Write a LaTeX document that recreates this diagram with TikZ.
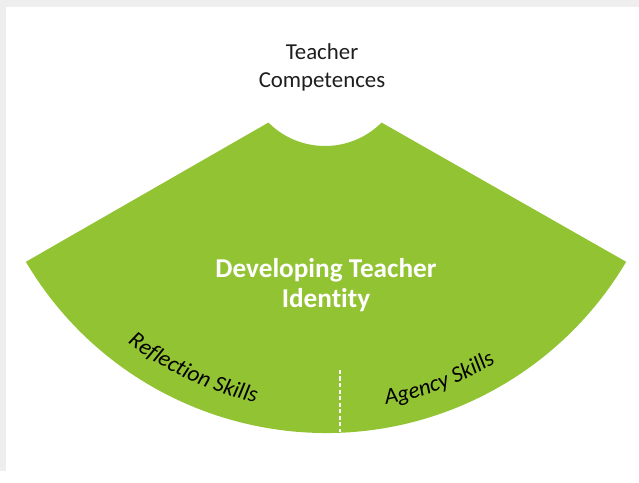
\documentclass[tikz,border=0pt]{standalone}
\usepackage{fontspec}
\setmainfont{Carlito}[Ligatures=NoCommon]
\usetikzlibrary{positioning,calc,decorations.text}

\definecolor{leafgreen}{RGB}{146,195,51}
\definecolor{framegray}{RGB}{238,238,238}
\definecolor{inkgray}{RGB}{30,30,30}

\tikzset{
  skilltext/.style={decorate,decoration={text along path,text align=center}},
}

\begin{document}
\begin{tikzpicture}[x=0.02cm,y=0.02cm]
    \fill[framegray] (0,0) rectangle (639,471);
    \fill[white] (6,0) rectangle (639,464);
    % centres of the fan and of the notch
    \coordinate (O) at (326,386.7);
    \coordinate (C) at (325,405);
    \fill[leafgreen] ($(C)+(225:80)$) -- ($(O)+(210.6:348.7)$)
        arc[start angle=210.6,end angle=329.4,radius=348.7]
        -- ($(C)+(315:80)$) arc[start angle=315,end angle=225,radius=80] -- cycle;
    \node[text=inkgray, align=center, font=\fontsize{13}{16}\selectfont] (comp) at (322,404) {Teacher\\Competences};
    \node[text=white, align=center, font=\bfseries\fontsize{15.5}{17.5}\selectfont] (ident) at (326,186) {Developing Teacher\\Identity};
    \coordinate (divtop) at (340,101);
    \coordinate (divbot) at (340,38.5);
    \draw[white, line width=0.6pt, dash pattern=on 2.5pt off 1.2pt] (divtop) -- (divbot);
    %\draw[red] (O) circle[radius=326];
    \path[skilltext, decoration={text={|\itshape\fontsize{13}{15}\selectfont|Reflection Skills}}]
        ($(O)+(224:326)$) arc[start angle=224,end angle=266,radius=326];
    \path[skilltext, decoration={text={|\itshape\fontsize{13}{15}\selectfont|Agency Skills}}]
        ($(O)+(270:326)$) arc[start angle=270,end angle=312,radius=326];
\end{tikzpicture}
\end{document}
